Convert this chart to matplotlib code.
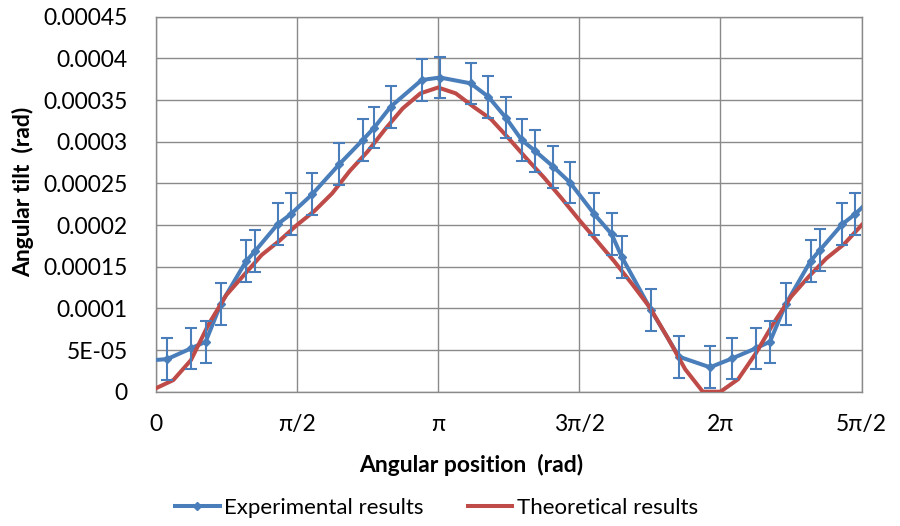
import numpy as np
import matplotlib.pyplot as plt

plt.rcParams['font.family'] = ['Lato', 'DejaVu Sans']

# ----- experimental data (rad, rad) -----
exp_x = [-0.12, 0.129, 0.393, 0.556, 0.723, 1.005, 1.108, 1.357, 1.502, 1.742,
         2.043, 2.303, 2.432, 2.614, 2.959, 3.163, 3.504, 3.700, 3.894, 4.072,
         4.220, 4.423, 4.609, 4.880, 5.073, 5.184, 5.510, 5.822, 6.167, 6.415,
         6.675, 6.834, 7.009, 7.287, 7.390, 7.638, 7.780, 8.022]
exp_y = [3.70e-5, 3.92e-5, 5.2e-5, 6.0e-5, 1.05e-4, 1.565e-4, 1.69e-4, 2.01e-4, 2.13e-4, 2.37e-4,
         2.73e-4, 3.02e-4, 3.17e-4, 3.42e-4, 3.74e-4, 3.77e-4, 3.70e-4, 3.54e-4, 3.29e-4, 3.02e-4,
         2.89e-4, 2.70e-4, 2.51e-4, 2.13e-4, 1.89e-4, 1.62e-4, 9.8e-5, 4.2e-5, 2.93e-5, 4.0e-5,
         5.2e-5, 6.0e-5, 1.05e-4, 1.57e-4, 1.70e-4, 2.01e-4, 2.13e-4, 2.38e-4]
exp_err = 2.5e-5

# ----- theoretical curve, sampled every pi/16 -----
theo_x = np.arange(41) * np.pi / 16
theo_y = [0.04, 0.14, 0.38, 0.81, 1.16, 1.40, 1.64, 1.81, 2.00, 2.17,
          2.38, 2.65, 2.88, 3.15, 3.40, 3.58, 3.65, 3.58, 3.42, 3.27,
          3.04, 2.80, 2.57, 2.32, 2.06, 1.81, 1.56, 1.29, 1.01, 0.65,
          0.27, 0.0, 0.0, 0.15, 0.46, 0.82, 1.14, 1.38, 1.60, 1.77, 2.00]
theo_y = np.array(theo_y) * 1e-4

x_ticks = [0, np.pi/2, np.pi, 3*np.pi/2, 2*np.pi, 5*np.pi/2]
x_labels = ['0', 'π/2', 'π', '3π/2', '2π', '5π/2']
y_ticks = [0, 5e-5, 1e-4, 1.5e-4, 2e-4, 2.5e-4, 3e-4, 3.5e-4, 4e-4, 4.5e-4]
y_labels = ['0', '5E-05', '0.0001', '0.00015', '0.0002', '0.00025',
            '0.0003', '0.00035', '0.0004', '0.00045']

blue = '#4a7ebb'
red = '#be4b48'
grid_c = '#8a8a8a'

fig = plt.figure(figsize=(9, 5.26), dpi=100)
ax = fig.add_axes([0.173, 0.2553, 0.7844, 0.713])

ax.plot(exp_x, exp_y, color=blue, lw=2.9, marker='D', ms=4.5, zorder=3,
        solid_joinstyle='round', label='Experimental results')
ax.plot(theo_x, theo_y, color=red, lw=2.9, zorder=4,
        solid_joinstyle='round', label='Theoretical results')
ax.errorbar(exp_x, exp_y, yerr=exp_err, fmt='none', ecolor=blue, elinewidth=1.5,
            capsize=4, capthick=1.5, zorder=5)

ax.set_xlim(0, 5*np.pi/2)
ax.set_ylim(0, 4.5e-4)
ax.set_xticks(x_ticks, x_labels)
ax.set_yticks(y_ticks, y_labels)
ax.tick_params(length=0, labelsize=16.5, colors='#000000')
ax.tick_params(axis='y', pad=20)
ax.tick_params(axis='x', pad=16)
ax.grid(True, color=grid_c, lw=1.0)
ax.set_axisbelow(True)
for s in ax.spines.values():
    s.set_color(grid_c)
    s.set_linewidth(1.0)

ax.set_xlabel('Angular position  (rad)', fontsize=16.5, fontweight='bold',
              labelpad=14, x=0.447)
ax.set_ylabel('Angular tilt  (rad)', fontsize=16.5, fontweight='bold',
              labelpad=7, y=0.532)

fig.legend(loc='center', bbox_to_anchor=(0.485, 0.034), ncol=2, frameon=False,
           fontsize=16, handlelength=2.0, columnspacing=2.0, handletextpad=0.2)

fig.savefig('out.png', dpi=100)
